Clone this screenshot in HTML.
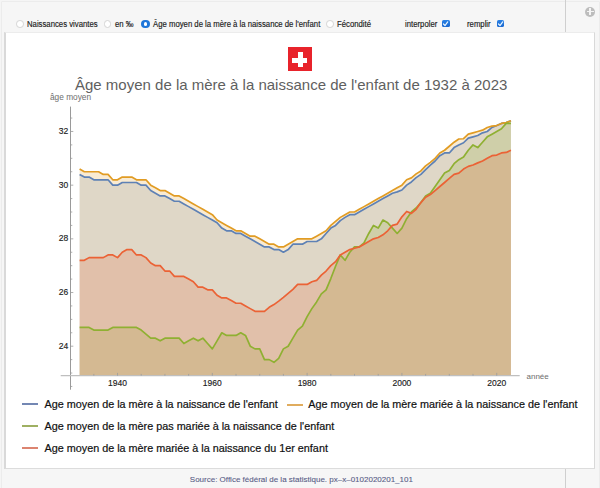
<!DOCTYPE html>
<html><head><meta charset="utf-8"><style>
html,body{margin:0;padding:0;}
body{width:600px;height:488px;position:relative;overflow:hidden;background:#f5f5f5;font-family:"Liberation Sans",sans-serif;}
.abs{position:absolute;}
.outer{position:absolute;left:1px;top:1px;width:597px;height:500px;border:1px solid #ececec;border-radius:1px;background:#f6f6f6;}
.sep{position:absolute;left:565px;top:0;width:1px;height:488px;background:#cfcfcf;}
.content{position:absolute;left:4px;top:32px;width:588px;height:435px;background:#fff;border-left:2px solid #d9d9d9;border-right:1px solid #d9d9d9;border-bottom:1px solid #dcdcdc;border-top:1px solid #ececec;}
.ctl{position:absolute;top:18px;font-size:8.4px;color:#1a1a1a;line-height:12px;white-space:nowrap;transform-origin:0 0;transform:scaleX(0.925);-webkit-text-stroke:0.15px #1a1a1a;}
.radio{position:absolute;top:20.3px;width:7.6px;height:7.6px;border-radius:50%;background:#fff;border:0.8px solid #d4d4d4;box-sizing:border-box;}
.radio.on{background:#1f76d9;border:none;width:8.6px;height:8.6px;top:19.5px;}
.radio.on::after{content:"";position:absolute;left:2.5px;top:2.5px;width:3.6px;height:3.6px;border-radius:50%;background:#fff;}
.chk{position:absolute;top:19.5px;width:7.8px;height:7.5px;border-radius:1.6px;background:linear-gradient(#2a82e6,#1b68cf);}
.yl{position:absolute;left:40.3px;width:28px;text-align:right;font-size:8.5px;line-height:10px;color:#222;-webkit-text-stroke:0.15px #222;}
.xl{position:absolute;top:378px;width:40px;text-align:center;font-size:8.5px;line-height:10px;color:#222;-webkit-text-stroke:0.15px #222;}
.leg{position:absolute;font-size:10.8px;line-height:12px;color:#111;white-space:nowrap;-webkit-text-stroke:0.2px #111;}
.lline{position:absolute;width:16px;height:2px;}
</style></head><body>
<div class="outer"></div>
<div class="sep"></div>
<div class="abs" style="left:585.2px;top:6.5px;width:10px;height:10px;border-radius:50%;background:#bdbdbd;"></div>
<div class="abs" style="left:586.8px;top:10.6px;width:6.8px;height:1.8px;background:#f4f4f4;"></div>
<div class="abs" style="left:589.3px;top:8.1px;width:1.8px;height:6.8px;background:#f4f4f4;"></div>

<div class="radio" style="left:16px"></div>
<div class="ctl" style="left:27px">Naissances vivantes</div>
<div class="radio" style="left:103.7px"></div>
<div class="ctl" style="left:115px">en ‰</div>
<div class="radio on" style="left:141px"></div>
<div class="ctl" style="left:152.5px">Âge moyen de la mère à la naissance de l'enfant</div>
<div class="radio" style="left:326.2px"></div>
<div class="ctl" style="left:337px">Fécondité</div>
<div class="ctl" style="left:405px">interpoler</div>
<div class="chk" style="left:442px"><svg width="7.5" height="7.5" viewBox="0 0 10 10" style="position:absolute;left:0;top:0"><path d="M2.0,5.3 L4.0,7.4 L7.6,2.6" fill="none" stroke="#e8f6ff" stroke-width="1.6" stroke-linecap="round" stroke-linejoin="round"/></svg></div>
<div class="ctl" style="left:467.4px">remplir</div>
<div class="chk" style="left:496.5px"><svg width="7.5" height="7.5" viewBox="0 0 10 10" style="position:absolute;left:0;top:0"><path d="M2.0,5.3 L4.0,7.4 L7.6,2.6" fill="none" stroke="#e8f6ff" stroke-width="1.6" stroke-linecap="round" stroke-linejoin="round"/></svg></div>

<div class="content"></div>

<div class="abs" style="left:288.2px;top:47.3px;width:23.4px;height:23.6px;background:#e8232b;"></div>
<div class="abs" style="left:292.1px;top:57.8px;width:15.4px;height:4.9px;background:#fff;"></div>
<div class="abs" style="left:297.7px;top:52.2px;width:4.9px;height:14.8px;background:#fff;"></div>

<div class="abs" id="title" style="left:75px;top:75.5px;font-size:15px;line-height:17px;color:#5f5f5f;white-space:nowrap;">Âge moyen de la mère à la naissance de l'enfant de 1932 à 2023</div>
<div class="abs" id="ylab" style="left:50px;top:92.3px;font-size:8.3px;line-height:10px;color:#6e6e6e;white-space:nowrap;">âge moyen</div>
<div class="abs" id="xlab" style="left:526.5px;top:371.6px;font-size:8px;line-height:10px;color:#6e6e6e;white-space:nowrap;">année</div>

<svg class="abs" style="left:0;top:0" width="600" height="488" viewBox="0 0 600 488">
<path d="M79.60,375.7 L79.60,174.42 L84.34,177.11 L89.08,177.11 L93.82,179.79 L98.56,179.79 L103.30,179.79 L108.04,179.79 L112.78,185.16 L117.52,185.16 L122.26,182.48 L127.00,182.48 L131.74,182.48 L136.48,182.48 L141.22,185.16 L145.96,185.16 L150.70,190.53 L155.44,193.21 L160.18,195.90 L164.92,195.90 L169.66,198.58 L174.40,201.26 L179.14,201.26 L183.88,203.95 L188.62,206.63 L193.36,209.32 L198.10,212.00 L202.84,214.68 L207.58,217.37 L212.32,220.05 L217.06,222.74 L221.80,228.10 L226.54,230.79 L231.28,230.79 L236.02,233.47 L240.76,233.47 L245.50,236.16 L250.24,238.84 L254.98,241.52 L259.72,244.21 L264.46,246.89 L269.20,246.89 L273.94,249.58 L278.68,249.58 L283.42,252.26 L288.16,249.58 L292.90,244.21 L297.64,244.21 L302.38,244.21 L307.12,241.52 L311.86,241.52 L316.60,241.52 L321.34,238.84 L326.08,233.47 L330.82,228.10 L335.56,225.42 L340.30,220.59 L345.04,217.37 L349.78,214.68 L354.52,214.68 L359.26,212.00 L364.00,209.32 L368.74,206.63 L373.48,203.95 L378.22,201.26 L382.96,198.58 L387.70,195.90 L392.44,193.21 L397.18,191.87 L401.92,189.99 L406.66,185.16 L411.40,181.94 L416.14,177.64 L420.88,174.42 L425.62,169.59 L430.36,165.03 L435.10,161.00 L439.84,155.64 L444.58,152.95 L449.32,152.95 L454.06,147.58 L458.80,144.90 L463.54,142.75 L468.28,138.19 L473.02,136.85 L477.76,135.51 L482.50,132.82 L487.24,131.48 L491.98,127.45 L496.72,125.58 L501.46,123.43 L506.20,122.62 L510.94,120.74 L510.94,375.7 Z" fill="#5E81B5" fill-opacity="0.2"/>
<path d="M79.60,375.7 L79.60,169.06 L84.34,171.74 L89.08,171.74 L93.82,171.74 L98.56,171.74 L103.30,174.42 L108.04,174.42 L112.78,179.79 L117.52,179.79 L122.26,177.11 L127.00,177.11 L131.74,177.11 L136.48,179.79 L141.22,179.79 L145.96,179.79 L150.70,185.16 L155.44,187.84 L160.18,190.53 L164.92,190.53 L169.66,193.21 L174.40,195.90 L179.14,195.90 L183.88,198.58 L188.62,201.26 L193.36,203.95 L198.10,206.63 L202.84,209.32 L207.58,212.00 L212.32,214.68 L217.06,220.05 L221.80,222.74 L226.54,225.42 L231.28,228.10 L236.02,230.79 L240.76,230.79 L245.50,233.47 L250.24,236.16 L254.98,236.16 L259.72,238.84 L264.46,241.52 L269.20,244.21 L273.94,244.21 L278.68,246.89 L283.42,246.89 L288.16,244.21 L292.90,241.52 L297.64,238.84 L302.38,238.84 L307.12,238.84 L311.86,238.84 L316.60,236.16 L321.34,233.47 L326.08,230.79 L330.82,225.42 L335.56,221.39 L340.30,217.37 L345.04,214.68 L349.78,212.00 L354.52,212.00 L359.26,209.32 L364.00,206.63 L368.74,203.95 L373.48,201.26 L378.22,198.58 L382.96,195.90 L387.70,193.21 L392.44,190.53 L397.18,187.84 L401.92,185.16 L406.66,179.79 L411.40,177.91 L416.14,173.89 L420.88,170.93 L425.62,165.84 L430.36,162.35 L435.10,158.32 L439.84,152.95 L444.58,150.27 L449.32,146.24 L454.06,142.22 L458.80,139.00 L463.54,138.73 L468.28,134.16 L473.02,132.82 L477.76,131.48 L482.50,130.14 L487.24,127.45 L491.98,126.11 L496.72,125.58 L501.46,123.43 L506.20,122.62 L510.94,120.74 L510.94,375.7 Z" fill="#E19C24" fill-opacity="0.2"/>
<path d="M79.60,375.7 L79.60,327.41 L84.34,327.41 L89.08,327.41 L93.82,330.10 L98.56,330.10 L103.30,330.10 L108.04,330.10 L112.78,327.41 L117.52,327.41 L122.26,327.41 L127.00,327.41 L131.74,327.41 L136.48,327.41 L141.22,330.10 L145.96,334.12 L150.70,338.15 L155.44,338.15 L160.18,340.83 L164.92,338.15 L169.66,338.15 L174.40,338.15 L179.14,338.15 L183.88,343.52 L188.62,340.83 L193.36,338.15 L198.10,340.83 L202.84,338.15 L207.58,343.52 L212.32,348.88 L217.06,340.83 L221.80,332.78 L226.54,335.46 L231.28,335.46 L236.02,335.46 L240.76,332.78 L245.50,335.46 L250.24,346.20 L254.98,348.88 L259.72,348.88 L264.46,359.62 L269.20,359.62 L273.94,362.30 L278.68,358.28 L283.42,348.88 L288.16,346.20 L292.90,338.15 L297.64,330.10 L302.38,326.07 L307.12,316.68 L311.86,308.62 L316.60,301.91 L321.34,293.86 L326.08,289.84 L330.82,278.56 L335.56,266.22 L340.30,254.94 L345.04,260.31 L349.78,252.26 L354.52,246.89 L359.26,246.89 L364.00,242.87 L368.74,233.47 L373.48,225.42 L378.22,228.10 L382.96,220.05 L387.70,222.74 L392.44,228.10 L397.18,233.47 L401.92,228.10 L406.66,218.71 L411.40,212.00 L416.14,207.97 L420.88,202.61 L425.62,195.90 L430.36,193.21 L435.10,186.50 L439.84,179.79 L444.58,173.08 L449.32,170.40 L454.06,163.69 L458.80,159.66 L463.54,156.98 L468.28,150.27 L473.02,144.90 L477.76,147.58 L482.50,142.22 L487.24,136.85 L491.98,134.16 L496.72,131.48 L501.46,128.80 L506.20,123.43 L510.94,123.43 L510.94,375.7 Z" fill="#8FB032" fill-opacity="0.2"/>
<path d="M79.60,375.7 L79.60,260.31 L84.34,260.31 L89.08,257.63 L93.82,257.63 L98.56,257.63 L103.30,257.63 L108.04,254.94 L112.78,254.94 L117.52,257.63 L122.26,252.26 L127.00,249.58 L131.74,249.58 L136.48,254.94 L141.22,254.94 L145.96,257.63 L150.70,263.00 L155.44,265.68 L160.18,265.68 L164.92,271.05 L169.66,271.05 L174.40,276.42 L179.14,276.42 L183.88,276.42 L188.62,279.10 L193.36,281.78 L198.10,287.15 L202.84,287.15 L207.58,289.84 L212.32,289.84 L217.06,295.20 L221.80,297.89 L226.54,297.89 L231.28,300.57 L236.02,303.26 L240.76,303.26 L245.50,305.94 L250.24,308.62 L254.98,311.31 L259.72,311.31 L264.46,311.31 L269.20,307.28 L273.94,304.60 L278.68,301.11 L283.42,297.35 L288.16,293.33 L292.90,289.30 L297.64,284.47 L302.38,284.47 L307.12,284.47 L311.86,281.78 L316.60,280.44 L321.34,275.07 L326.08,271.05 L330.82,265.68 L335.56,261.65 L340.30,254.94 L345.04,252.26 L349.78,249.58 L354.52,248.23 L359.26,246.89 L364.00,244.21 L368.74,241.52 L373.48,238.84 L378.22,237.50 L382.96,234.81 L387.70,230.79 L392.44,225.42 L397.18,224.08 L401.92,216.83 L406.66,211.46 L411.40,213.34 L416.14,209.32 L420.88,202.61 L425.62,197.24 L430.36,194.55 L435.10,190.53 L439.84,186.50 L444.58,182.48 L449.32,178.45 L454.06,174.42 L458.80,173.08 L463.54,169.06 L468.28,166.37 L473.02,165.03 L477.76,162.88 L482.50,161.00 L487.24,158.32 L491.98,155.64 L496.72,155.10 L501.46,152.95 L506.20,152.42 L510.94,150.27 L510.94,375.7 Z" fill="#EB6235" fill-opacity="0.2"/>
<polyline points="79.60,174.42 84.34,177.11 89.08,177.11 93.82,179.79 98.56,179.79 103.30,179.79 108.04,179.79 112.78,185.16 117.52,185.16 122.26,182.48 127.00,182.48 131.74,182.48 136.48,182.48 141.22,185.16 145.96,185.16 150.70,190.53 155.44,193.21 160.18,195.90 164.92,195.90 169.66,198.58 174.40,201.26 179.14,201.26 183.88,203.95 188.62,206.63 193.36,209.32 198.10,212.00 202.84,214.68 207.58,217.37 212.32,220.05 217.06,222.74 221.80,228.10 226.54,230.79 231.28,230.79 236.02,233.47 240.76,233.47 245.50,236.16 250.24,238.84 254.98,241.52 259.72,244.21 264.46,246.89 269.20,246.89 273.94,249.58 278.68,249.58 283.42,252.26 288.16,249.58 292.90,244.21 297.64,244.21 302.38,244.21 307.12,241.52 311.86,241.52 316.60,241.52 321.34,238.84 326.08,233.47 330.82,228.10 335.56,225.42 340.30,220.59 345.04,217.37 349.78,214.68 354.52,214.68 359.26,212.00 364.00,209.32 368.74,206.63 373.48,203.95 378.22,201.26 382.96,198.58 387.70,195.90 392.44,193.21 397.18,191.87 401.92,189.99 406.66,185.16 411.40,181.94 416.14,177.64 420.88,174.42 425.62,169.59 430.36,165.03 435.10,161.00 439.84,155.64 444.58,152.95 449.32,152.95 454.06,147.58 458.80,144.90 463.54,142.75 468.28,138.19 473.02,136.85 477.76,135.51 482.50,132.82 487.24,131.48 491.98,127.45 496.72,125.58 501.46,123.43 506.20,122.62 510.94,120.74" fill="none" stroke="#5E81B5" stroke-width="1.7" stroke-linejoin="round"/>
<polyline points="79.60,169.06 84.34,171.74 89.08,171.74 93.82,171.74 98.56,171.74 103.30,174.42 108.04,174.42 112.78,179.79 117.52,179.79 122.26,177.11 127.00,177.11 131.74,177.11 136.48,179.79 141.22,179.79 145.96,179.79 150.70,185.16 155.44,187.84 160.18,190.53 164.92,190.53 169.66,193.21 174.40,195.90 179.14,195.90 183.88,198.58 188.62,201.26 193.36,203.95 198.10,206.63 202.84,209.32 207.58,212.00 212.32,214.68 217.06,220.05 221.80,222.74 226.54,225.42 231.28,228.10 236.02,230.79 240.76,230.79 245.50,233.47 250.24,236.16 254.98,236.16 259.72,238.84 264.46,241.52 269.20,244.21 273.94,244.21 278.68,246.89 283.42,246.89 288.16,244.21 292.90,241.52 297.64,238.84 302.38,238.84 307.12,238.84 311.86,238.84 316.60,236.16 321.34,233.47 326.08,230.79 330.82,225.42 335.56,221.39 340.30,217.37 345.04,214.68 349.78,212.00 354.52,212.00 359.26,209.32 364.00,206.63 368.74,203.95 373.48,201.26 378.22,198.58 382.96,195.90 387.70,193.21 392.44,190.53 397.18,187.84 401.92,185.16 406.66,179.79 411.40,177.91 416.14,173.89 420.88,170.93 425.62,165.84 430.36,162.35 435.10,158.32 439.84,152.95 444.58,150.27 449.32,146.24 454.06,142.22 458.80,139.00 463.54,138.73 468.28,134.16 473.02,132.82 477.76,131.48 482.50,130.14 487.24,127.45 491.98,126.11 496.72,125.58 501.46,123.43 506.20,122.62 510.94,120.74" fill="none" stroke="#E19C24" stroke-width="1.7" stroke-linejoin="round"/>
<polyline points="79.60,327.41 84.34,327.41 89.08,327.41 93.82,330.10 98.56,330.10 103.30,330.10 108.04,330.10 112.78,327.41 117.52,327.41 122.26,327.41 127.00,327.41 131.74,327.41 136.48,327.41 141.22,330.10 145.96,334.12 150.70,338.15 155.44,338.15 160.18,340.83 164.92,338.15 169.66,338.15 174.40,338.15 179.14,338.15 183.88,343.52 188.62,340.83 193.36,338.15 198.10,340.83 202.84,338.15 207.58,343.52 212.32,348.88 217.06,340.83 221.80,332.78 226.54,335.46 231.28,335.46 236.02,335.46 240.76,332.78 245.50,335.46 250.24,346.20 254.98,348.88 259.72,348.88 264.46,359.62 269.20,359.62 273.94,362.30 278.68,358.28 283.42,348.88 288.16,346.20 292.90,338.15 297.64,330.10 302.38,326.07 307.12,316.68 311.86,308.62 316.60,301.91 321.34,293.86 326.08,289.84 330.82,278.56 335.56,266.22 340.30,254.94 345.04,260.31 349.78,252.26 354.52,246.89 359.26,246.89 364.00,242.87 368.74,233.47 373.48,225.42 378.22,228.10 382.96,220.05 387.70,222.74 392.44,228.10 397.18,233.47 401.92,228.10 406.66,218.71 411.40,212.00 416.14,207.97 420.88,202.61 425.62,195.90 430.36,193.21 435.10,186.50 439.84,179.79 444.58,173.08 449.32,170.40 454.06,163.69 458.80,159.66 463.54,156.98 468.28,150.27 473.02,144.90 477.76,147.58 482.50,142.22 487.24,136.85 491.98,134.16 496.72,131.48 501.46,128.80 506.20,123.43 510.94,123.43" fill="none" stroke="#8FB032" stroke-width="1.7" stroke-linejoin="round"/>
<polyline points="79.60,260.31 84.34,260.31 89.08,257.63 93.82,257.63 98.56,257.63 103.30,257.63 108.04,254.94 112.78,254.94 117.52,257.63 122.26,252.26 127.00,249.58 131.74,249.58 136.48,254.94 141.22,254.94 145.96,257.63 150.70,263.00 155.44,265.68 160.18,265.68 164.92,271.05 169.66,271.05 174.40,276.42 179.14,276.42 183.88,276.42 188.62,279.10 193.36,281.78 198.10,287.15 202.84,287.15 207.58,289.84 212.32,289.84 217.06,295.20 221.80,297.89 226.54,297.89 231.28,300.57 236.02,303.26 240.76,303.26 245.50,305.94 250.24,308.62 254.98,311.31 259.72,311.31 264.46,311.31 269.20,307.28 273.94,304.60 278.68,301.11 283.42,297.35 288.16,293.33 292.90,289.30 297.64,284.47 302.38,284.47 307.12,284.47 311.86,281.78 316.60,280.44 321.34,275.07 326.08,271.05 330.82,265.68 335.56,261.65 340.30,254.94 345.04,252.26 349.78,249.58 354.52,248.23 359.26,246.89 364.00,244.21 368.74,241.52 373.48,238.84 378.22,237.50 382.96,234.81 387.70,230.79 392.44,225.42 397.18,224.08 401.92,216.83 406.66,211.46 411.40,213.34 416.14,209.32 420.88,202.61 425.62,197.24 430.36,194.55 435.10,190.53 439.84,186.50 444.58,182.48 449.32,178.45 454.06,174.42 458.80,173.08 463.54,169.06 468.28,166.37 473.02,165.03 477.76,162.88 482.50,161.00 487.24,158.32 491.98,155.64 496.72,155.10 501.46,152.95 506.20,152.42 510.94,150.27" fill="none" stroke="#EB6235" stroke-width="1.7" stroke-linejoin="round"/>
<line x1="70.5" y1="106.6" x2="70.5" y2="389.7" stroke="#9a9a9a" stroke-width="1"/>
<line x1="60.7" y1="375.7" x2="519.7" y2="375.7" stroke="#bfbfbf" stroke-width="1.3"/>
<line x1="70.5" y1="386.46" x2="72.3" y2="386.46" stroke="#9a9a9a" stroke-width="0.8"/>
<line x1="70.5" y1="373.04" x2="72.3" y2="373.04" stroke="#9a9a9a" stroke-width="0.8"/>
<line x1="70.5" y1="359.62" x2="72.3" y2="359.62" stroke="#9a9a9a" stroke-width="0.8"/>
<line x1="70.5" y1="346.20" x2="73.3" y2="346.20" stroke="#9a9a9a" stroke-width="0.8"/>
<line x1="70.5" y1="332.78" x2="72.3" y2="332.78" stroke="#9a9a9a" stroke-width="0.8"/>
<line x1="70.5" y1="319.36" x2="72.3" y2="319.36" stroke="#9a9a9a" stroke-width="0.8"/>
<line x1="70.5" y1="305.94" x2="72.3" y2="305.94" stroke="#9a9a9a" stroke-width="0.8"/>
<line x1="70.5" y1="292.52" x2="73.3" y2="292.52" stroke="#9a9a9a" stroke-width="0.8"/>
<line x1="70.5" y1="279.10" x2="72.3" y2="279.10" stroke="#9a9a9a" stroke-width="0.8"/>
<line x1="70.5" y1="265.68" x2="72.3" y2="265.68" stroke="#9a9a9a" stroke-width="0.8"/>
<line x1="70.5" y1="252.26" x2="72.3" y2="252.26" stroke="#9a9a9a" stroke-width="0.8"/>
<line x1="70.5" y1="238.84" x2="73.3" y2="238.84" stroke="#9a9a9a" stroke-width="0.8"/>
<line x1="70.5" y1="225.42" x2="72.3" y2="225.42" stroke="#9a9a9a" stroke-width="0.8"/>
<line x1="70.5" y1="212.00" x2="72.3" y2="212.00" stroke="#9a9a9a" stroke-width="0.8"/>
<line x1="70.5" y1="198.58" x2="72.3" y2="198.58" stroke="#9a9a9a" stroke-width="0.8"/>
<line x1="70.5" y1="185.16" x2="73.3" y2="185.16" stroke="#9a9a9a" stroke-width="0.8"/>
<line x1="70.5" y1="171.74" x2="72.3" y2="171.74" stroke="#9a9a9a" stroke-width="0.8"/>
<line x1="70.5" y1="158.32" x2="72.3" y2="158.32" stroke="#9a9a9a" stroke-width="0.8"/>
<line x1="70.5" y1="144.90" x2="72.3" y2="144.90" stroke="#9a9a9a" stroke-width="0.8"/>
<line x1="70.5" y1="131.48" x2="73.3" y2="131.48" stroke="#9a9a9a" stroke-width="0.8"/>
<line x1="70.5" y1="118.06" x2="72.3" y2="118.06" stroke="#9a9a9a" stroke-width="0.8"/>
<line x1="93.82" y1="375.7" x2="93.82" y2="373.9" stroke="#9a9a9a" stroke-width="0.8"/>
<line x1="117.52" y1="375.7" x2="117.52" y2="372.9" stroke="#9a9a9a" stroke-width="0.8"/>
<line x1="141.22" y1="375.7" x2="141.22" y2="373.9" stroke="#9a9a9a" stroke-width="0.8"/>
<line x1="164.92" y1="375.7" x2="164.92" y2="373.9" stroke="#9a9a9a" stroke-width="0.8"/>
<line x1="188.62" y1="375.7" x2="188.62" y2="373.9" stroke="#9a9a9a" stroke-width="0.8"/>
<line x1="212.32" y1="375.7" x2="212.32" y2="372.9" stroke="#9a9a9a" stroke-width="0.8"/>
<line x1="236.02" y1="375.7" x2="236.02" y2="373.9" stroke="#9a9a9a" stroke-width="0.8"/>
<line x1="259.72" y1="375.7" x2="259.72" y2="373.9" stroke="#9a9a9a" stroke-width="0.8"/>
<line x1="283.42" y1="375.7" x2="283.42" y2="373.9" stroke="#9a9a9a" stroke-width="0.8"/>
<line x1="307.12" y1="375.7" x2="307.12" y2="372.9" stroke="#9a9a9a" stroke-width="0.8"/>
<line x1="330.82" y1="375.7" x2="330.82" y2="373.9" stroke="#9a9a9a" stroke-width="0.8"/>
<line x1="354.52" y1="375.7" x2="354.52" y2="373.9" stroke="#9a9a9a" stroke-width="0.8"/>
<line x1="378.22" y1="375.7" x2="378.22" y2="373.9" stroke="#9a9a9a" stroke-width="0.8"/>
<line x1="401.92" y1="375.7" x2="401.92" y2="372.9" stroke="#9a9a9a" stroke-width="0.8"/>
<line x1="425.62" y1="375.7" x2="425.62" y2="373.9" stroke="#9a9a9a" stroke-width="0.8"/>
<line x1="449.32" y1="375.7" x2="449.32" y2="373.9" stroke="#9a9a9a" stroke-width="0.8"/>
<line x1="473.02" y1="375.7" x2="473.02" y2="373.9" stroke="#9a9a9a" stroke-width="0.8"/>
<line x1="496.72" y1="375.7" x2="496.72" y2="372.9" stroke="#9a9a9a" stroke-width="0.8"/>
</svg>
<div class="yl" style="top:340.5px">24</div>
<div class="yl" style="top:286.8px">26</div>
<div class="yl" style="top:233.1px">28</div>
<div class="yl" style="top:179.5px">30</div>
<div class="yl" style="top:125.8px">32</div>
<div class="xl" style="left:97.5px">1940</div>
<div class="xl" style="left:192.3px">1960</div>
<div class="xl" style="left:287.1px">1980</div>
<div class="xl" style="left:381.9px">2000</div>
<div class="xl" style="left:476.7px">2020</div>

<div class="lline" style="left:22px;top:403.4px;background:#7387b3"></div>
<div class="leg" style="left:44.6px;top:398px">Age moyen de la mère à la naissance de l'enfant</div>
<div class="lline" style="left:286.8px;top:403.7px;background:#e0ac5e"></div>
<div class="leg" style="left:308.3px;top:398px">Age moyen de la mère mariée à la naissance de l'enfant</div>
<div class="lline" style="left:22.2px;top:424.8px;background:#9fb062"></div>
<div class="leg" style="left:44.6px;top:420px">Age moyen de la mère pas mariée à la naissance de l'enfant</div>
<div class="lline" style="left:22.2px;top:446.8px;background:#dc8470"></div>
<div class="leg" style="left:44.6px;top:442px">Age moyen de la mère mariée à la naissance du 1er enfant</div>

<div class="abs" id="src" style="left:189.8px;top:475px;font-size:8px;line-height:10px;color:#585d86;white-space:nowrap;-webkit-text-stroke:0.1px #585d86;">Source: Office fédéral de la statistique. px–x–0102020201_101</div>
</body></html>
